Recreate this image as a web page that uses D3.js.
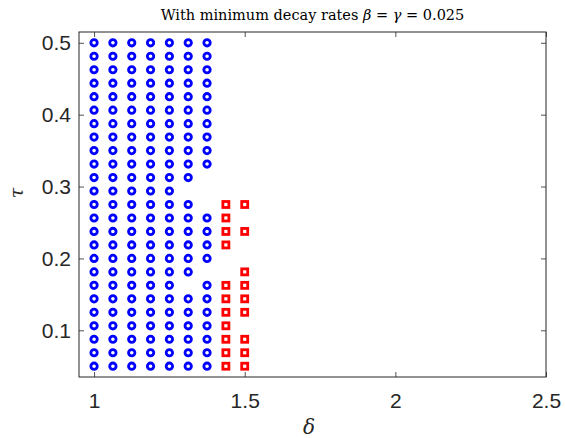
<!DOCTYPE html>
<html>
<head>
<meta charset="utf-8">
<script src="https://cdn.jsdelivr.net/npm/d3@7"></script>
<style>
  body { margin: 0; background: #fff; }
  svg { display: block; }
</style>
</head>
<body>
<svg id="chart" width="565" height="438"></svg>
<script>
// grid of parameter values
var deltaValues = [1, 1.0625, 1.125, 1.1875, 1.25, 1.3125, 1.375, 1.4375, 1.5];
var tauValues = [0.5, 0.48125, 0.4625, 0.44375, 0.425, 0.40625, 0.3875, 0.36875, 0.35,
    0.33125, 0.3125, 0.29375, 0.275, 0.25625, 0.2375, 0.21875, 0.2, 0.18125,
    0.1625, 0.14375, 0.125, 0.10625, 0.0875, 0.06875, 0.05];

// row indices (into tauValues) marked for each delta column
var circleRows = [
    d3.range(0, 25), d3.range(0, 25), d3.range(0, 25), d3.range(0, 25), d3.range(0, 25),
    [0,1,2,3,4,5,6,7,8,9,10,12,13,14,15,16,17,19,20,21,22,23,24],
    [0,1,2,3,4,5,6,7,8,9,13,14,15,16,18,19,20,21,22,23,24],
    [], []
];
var squareRows = [
    [], [], [], [], [], [], [],
    [12,13,14,15,18,19,20,21,22,23,24],
    [12,14,17,18,19,20,22,23,24]
];

var xTicks = [1, 1.5, 2, 2.5];
var yTicks = [0.1, 0.2, 0.3, 0.4, 0.5];

var circles = [], squares = [];
deltaValues.forEach(function (d, i) {
    circleRows[i].forEach(function (r) { circles.push({ delta: d, tau: tauValues[r] }); });
    squareRows[i].forEach(function (r) { squares.push({ delta: d, tau: tauValues[r] }); });
});

var m = { left: 79, right: 19, top: 32, bottom: 61 };
var W = 565, H = 438;
var w = W - m.left - m.right, h = H - m.top - m.bottom;

var svg = d3.select("#chart");
var g = svg.append("g").attr("transform", "translate(" + m.left + "," + m.top + ")");

var x = d3.scaleLinear().domain([0.95, 2.5]).range([0, w]);
var y = d3.scaleLinear().domain([0.035, 0.515]).range([h, 0]);

var axisColor = "#262626";

// markers
g.selectAll(".circ").data(circles).enter().append("circle")
    .attr("cx", function (d) { return x(d.delta); })
    .attr("cy", function (d) { return y(d.tau); })
    .attr("r", 3.2)
    .attr("fill", "none")
    .attr("stroke", "#0000ff")
    .attr("stroke-width", 2.8);

g.selectAll(".sq").data(squares).enter().append("rect")
    .attr("x", function (d) { return x(d.delta) - 3; })
    .attr("y", function (d) { return y(d.tau) - 3; })
    .attr("width", 6)
    .attr("height", 6)
    .attr("fill", "none")
    .attr("stroke", "#ff0000")
    .attr("stroke-width", 2.8);

// axes (ticks inward, mirrored)
var tickLen = 5;
var xAxis = d3.axisBottom(x).tickValues(xTicks).tickSize(-tickLen).tickPadding(16).tickFormat(d3.format("~g"));
var yAxis = d3.axisLeft(y).tickValues(yTicks).tickSize(-tickLen).tickPadding(8).tickFormat(d3.format("~g"));

g.append("g").attr("transform", "translate(0," + h + ")").call(xAxis);
g.append("g").call(yAxis);
g.append("g").call(d3.axisTop(x).tickValues(xTicks).tickSize(-tickLen).tickFormat(""));
g.append("g").attr("transform", "translate(" + w + ",0)").call(d3.axisRight(y).tickValues(yTicks).tickSize(-tickLen).tickFormat(""));

g.selectAll(".domain").remove();
g.selectAll(".tick line").attr("stroke", axisColor).attr("stroke-width", 0.8);
g.selectAll(".tick text")
    .attr("fill", axisColor)
    .style("font-family", "'Liberation Sans', Arial, sans-serif")
    .style("font-size", "21px");

g.append("rect")
    .attr("width", w).attr("height", h)
    .attr("fill", "none")
    .attr("stroke", axisColor)
    .attr("stroke-width", 1);

// title
var title = svg.append("text")
    .attr("x", m.left + w / 2)
    .attr("y", 20)
    .attr("text-anchor", "middle")
    .style("font-family", "'DejaVu Serif', serif")
    .style("font-size", "14.5px")
    .attr("fill", "#000");
title.append("tspan").text("With minimum decay rates ");
title.append("tspan").style("font-style", "italic").text("β");
title.append("tspan").text(" = ");
title.append("tspan").style("font-style", "italic").text("γ");
title.append("tspan").text(" = 0.025");

// axis labels
svg.append("text")
    .attr("x", 309)
    .attr("y", 434)
    .attr("text-anchor", "middle")
    .style("font-family", "'DejaVu Serif', serif")
    .style("font-style", "italic")
    .style("font-size", "20px")
    .attr("fill", axisColor)
    .text("δ");

svg.append("text")
    .attr("transform", "translate(23,193) rotate(-90)")
    .attr("text-anchor", "middle")
    .style("font-family", "'DejaVu Serif', serif")
    .style("font-style", "italic")
    .style("font-size", "19px")
    .attr("fill", axisColor)
    .text("τ");
</script>
</body>
</html>
